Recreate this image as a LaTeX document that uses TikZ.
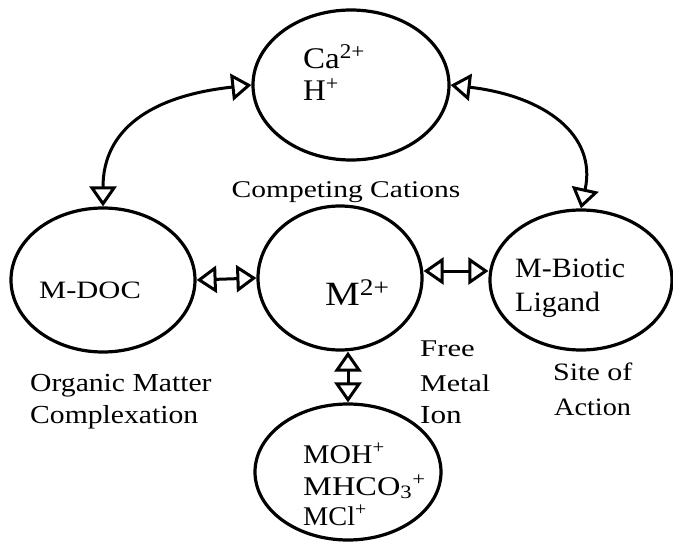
\documentclass[tikz,border=0pt]{standalone}
\usepackage{fontspec}
\usepackage{graphicx}
\setmainfont{Liberation Serif}
\usetikzlibrary{shapes.geometric,arrows.meta}
\newcommand\hsc[2]{\scalebox{#1}[1]{#2}}
\begin{document}
\begin{tikzpicture}[x=1pt,y=-1pt,
  oval/.style={draw, ellipse, line width=3.2pt, inner sep=0pt},
  lbl/.style={font=\fontsize{#1}{30}\selectfont, inner sep=0pt, anchor=base west},
  lbl/.default=25,
  dbl/.style={line width=3pt, {Triangle[open,length=20pt,width=27pt]}-{Triangle[open,length=20pt,width=27pt]}}]
\useasboundingbox (0,0) rectangle (673,544);
% ellipses
\node[oval, minimum width=196pt, minimum height=150pt] (top) at (351,85) {};
\node[oval, minimum width=184pt, minimum height=144pt] (doc) at (103,280) {};
\node[oval, minimum width=164pt, minimum height=144pt] (mid) at (340,278) {};
\node[oval, minimum width=182pt, minimum height=140pt] (bio) at (581,280) {};
\node[oval, minimum width=186pt, minimum height=136pt] (bot) at (348,472) {};
% texts
\node[lbl=30] (ca) at (303,68) {\hsc{1.1}{Ca\textsuperscript{2+}}};
\node[lbl=30] (h) at (303,100) {\hsc{1.05}{H\textsuperscript{+}}};
\node[lbl=24, anchor=base] (cc) at (346,197) {\hsc{1.23}{Competing Cations}};
\node[lbl=25] (mdoc) at (39,298) {\hsc{1.22}{M-DOC}};
\node[lbl=34] (m2) at (325,305) {\hsc{1.15}{M\textsuperscript{2+}}};
\node[lbl=28] (bl1) at (515,277) {\hsc{1.07}{M-Biotic}};
\node[lbl=28] (bl2) at (515,311) {\hsc{1.07}{Ligand}};
\node[lbl=24] (fm1) at (420,356) {\hsc{1.28}{Free}};
\node[lbl=24] (fm2) at (420,391) {\hsc{1.25}{Metal}};
\node[lbl=26] (fm3) at (420,423) {\hsc{1.2}{Ion}};
\node[lbl=26] (om1) at (30,391) {\hsc{1.14}{Organic Matter}};
\node[lbl=26] (om2) at (30,423) {\hsc{1.14}{Complexation}};
\node[lbl=25] (sa1) at (553,380) {\hsc{1.2}{Site of}};
\node[lbl=25] (sa2) at (554,415) {\hsc{1.13}{Action}};
\node[lbl=27] (b1) at (303,463) {\hsc{1.1}{MOH\textsuperscript{+}}};
\node[lbl=27] (b2) at (303,495) {\hsc{1.2}{MHCO\textsubscript{3}\textsuperscript{+}}};
\node[lbl=27] (b3) at (303,525) {\hsc{1.05}{MCl\textsuperscript{+}}};
% connectors
\draw[dbl] (top.west) .. controls (150,96) and (103,130) .. (doc.north);
\draw[dbl] (top.east) .. controls (545,96) and (597,135) .. (bio.north);
\draw[dbl] (doc.east) -- (mid.west);
\draw[dbl] (mid.east |- 0,271) -- (bio.west |- 0,271);
\draw[dbl] (bot.north |- mid.south) -- (bot.north);
\end{tikzpicture}
\end{document}
